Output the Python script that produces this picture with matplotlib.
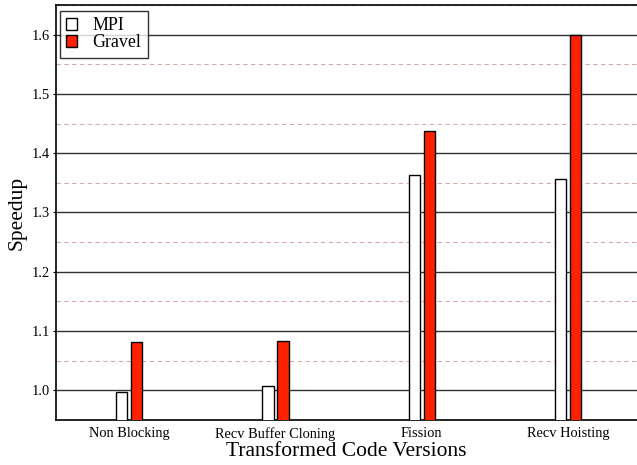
import numpy as np
import matplotlib
matplotlib.use("Agg")
import matplotlib.pyplot as plt
from matplotlib.ticker import MultipleLocator

plt.rcParams['font.family'] = ['Liberation Serif', 'DejaVu Serif']

categories = ["Non Blocking", "Recv Buffer Cloning", "Fission", "Recv Hoisting"]
mpi = [0.997, 1.008, 1.364, 1.357]
gravel = [1.081, 1.084, 1.437, 1.600]

fig = plt.figure(figsize=(6.37, 4.65), dpi=100)
ax = fig.add_axes([56 / 637, 1 - 420 / 465, 1 - 56 / 637, 415 / 465])

x = np.arange(len(categories))
w = 0.078
off = 0.051
ax.bar(x - off, mpi, w, bottom=0, color="white", edgecolor="black", linewidth=1.0,
       label="MPI", zorder=3)
ax.bar(x + off, gravel, w, bottom=0, color="#ff2200", edgecolor="black", linewidth=1.0,
       label="Gravel", zorder=3)

ax.set_ylim(0.95, 1.65)
ax.set_xlim(-0.5, 3.471)
ax.yaxis.set_minor_locator(MultipleLocator(0.05))
ticks = np.arange(1.0, 1.61, 0.1)
ax.set_yticks(ticks)
ax.set_yticklabels([f"{v:.1f}" for v in ticks])

ax.grid(axis="y", which="major", color="#333333", linewidth=1.0, linestyle="-", zorder=1)
ax.grid(axis="y", which="minor", color="#d9a8a8", linewidth=0.8, linestyle=(0, (4, 3)), zorder=1)

ax.set_xticks(x)
ax.set_xticklabels(categories, fontsize=10.4)
ax.tick_params(axis="x", length=0, pad=5)
ax.tick_params(axis="y", which="major", length=2, labelsize=10.4, pad=2.3)
ax.tick_params(axis="y", which="minor", length=0)

for s in ["left", "bottom", "top"]:
    ax.spines[s].set_linewidth(1.2)
    ax.spines[s].set_color("black")
ax.spines["right"].set_visible(False)

ax.set_ylabel("Speedup", fontsize=15.5, labelpad=4)
ax.set_xlabel("Transformed Code Versions", fontsize=15.5, labelpad=1)

leg = ax.legend(loc="upper left", fontsize=12.9, frameon=True, fancybox=False,
                edgecolor="black", handlelength=0.62, handleheight=0.62,
                handletextpad=0.85, borderpad=0.35, labelspacing=0.0,
                borderaxespad=0, bbox_to_anchor=(0.007, 0.9855))
leg.get_frame().set_linewidth(1.0)
leg.set_zorder(5)

fig.savefig("out.png", dpi=100)
